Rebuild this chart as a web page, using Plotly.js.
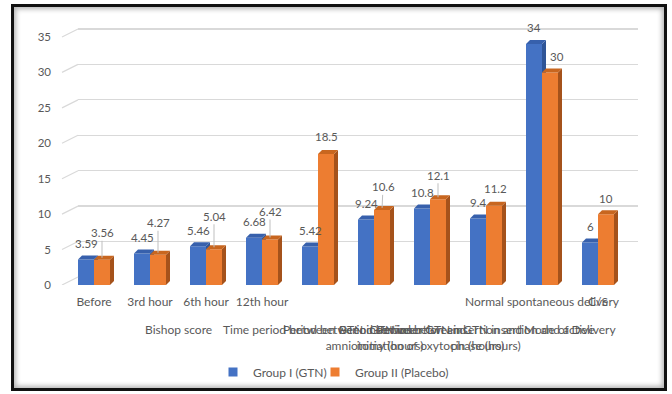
<!DOCTYPE html>
<html>
<head>
<meta charset="utf-8">
<script src="https://cdn.plot.ly/plotly-3.0.1.min.js"></script>
<style>
  html, body { margin: 0; padding: 0; background: #ffffff; overflow: hidden; }
  #wrap { position: relative; width: 672px; height: 394px; }
  #chart { position: absolute; left: 0; top: 0; width: 672px; height: 394px; }
  #frame { position: absolute; left: 11px; top: 4px; width: 656px; height: 387px; box-sizing: border-box;
           border: 3px solid #111; box-shadow: inset 0 0 5px 2px rgba(0,0,0,0.30); pointer-events: none; }
</style>
</head>
<body>
<div id="wrap"><div id="chart"></div><div id="frame"></div></div>
<script>
// ---- data ----
const categories = ['Before', '3rd hour', '6th hour', '12th hour', '', '', '', '', 'Normal spontaneous delivery', 'C/S'];
const groupLabels = [
  'Bishop score',
  'Time period between GTN insertion',
  'Period between GTN insertion and<br>amniotomy (hours)',
  'Period between GTN insertion and<br>initiation of oxytocin (hours)',
  'Period between GTN insertion and active<br>phase (hours)',
  'Mode of Delivery'
];
const groupFirst = [0, 4, 5, 6, 7, 8];
const groupLast  = [3, 4, 5, 6, 7, 9];
const seriesNames = ['Group I (GTN)', 'Group II (Placebo)'];
const gtn     = [3.59, 4.45, 5.46, 6.68, 5.42, 9.24, 10.8, 9.4, 34, 6];
const placebo = [3.56, 4.27, 5.04, 6.42, 18.5, 10.6, 12.1, 11.2, 30, 10];

// ---- label placement (pixels) ----
const gtnLift = [16, 16, 16, 16, 16, 16, 16, 16, 17, 16];
const placeboLift = [27, 32, 33, 28, 17, 23, 24, 17, 16, 16];
const placeboShift = [0, 0, 0, 0, 0, 1, 0, 1, 7, 0];

// ---- styling ----
const FONT = 'Lato, "Open Sans", sans-serif';
const TXT = '#595959';
const BLUE = '#4472C4', ORANGE = '#ED7D31';
const W = 672, H = 394;
const pxPerCat = 56, pxPerUnit = 262.2 / 37;
const barW = 16 / pxPerCat;
const dx = 4 / pxPerCat, dy = 4 / pxPerUnit;
const backDy = 8 / pxPerUnit;

const xs = categories.map((_, i) => i);

function faces(vals, off) {
  const f = {x: [], y: []}, s = {x: [], y: []}, t = {x: [], y: []};
  vals.forEach((v, i) => {
    const xl = xs[i] + off, xr = xl + barW;
    f.x.push(xl, xr, xr, xl, null); f.y.push(0, 0, v, v, null);
    s.x.push(xr, xr + dx, xr + dx, xr, null); s.y.push(0, dy, v + dy, v, null);
    t.x.push(xl, xr, xr + dx, xl + dx, null); t.y.push(v, v, v + dy, v + dy, null);
  });
  return [f, s, t];
}

function poly(p, color, name) {
  return {x: p.x, y: p.y, type: 'scatter', mode: 'lines', fill: 'toself', fillcolor: color,
          line: {width: 0, color: color}, xaxis: 'x2', yaxis: 'y2', name: name,
          showlegend: false, hoverinfo: 'skip'};
}

function legendKey(name, color, legendId) {
  // legend-only key: its single point sits outside the axis range and is clipped
  return {x: [-5], y: [-5], type: 'scatter', mode: 'markers', xaxis: 'x', yaxis: 'y', name: name,
          legend: legendId, marker: {symbol: 'square', size: 9, color: color}, cliponaxis: true,
          showlegend: true, hoverinfo: 'skip'};
}

const [bf, bs, bt] = faces(gtn, -barW);
const [of, os, ot] = faces(placebo, 0);

const traces = [
  legendKey(seriesNames[0], BLUE, 'legend'),
  legendKey(seriesNames[1], ORANGE, 'legend2'),
  poly(bf, BLUE, seriesNames[0]),
  poly(bs, '#2F5597', seriesNames[0]),
  poly(bt, '#3760AC', seriesNames[0]),
  poly(of, ORANGE, seriesNames[1]),
  poly(os, '#A5521B', seriesNames[1]),
  poly(ot, '#C8661F', seriesNames[1])
];

const annotations = [];
gtn.forEach((v, i) => {
  annotations.push({x: xs[i] - barW / 2, y: v, xref: 'x2', yref: 'y2', text: String(v),
    showarrow: false, yshift: gtnLift[i], yanchor: 'middle', font: {family: FONT, size: 11.5, color: TXT}});
});
placebo.forEach((v, i) => {
  const lead = placeboLift[i] >= 20;
  const a = {x: xs[i] + barW / 2, y: v, xref: 'x2', yref: 'y2', text: String(v),
    font: {family: FONT, size: 11.5, color: TXT}};
  if (lead) {
    Object.assign(a, {showarrow: true, arrowhead: 0, arrowwidth: 1, arrowcolor: '#bfbfbf',
      ax: placeboShift[i], ay: -placeboLift[i], standoff: 2});
  } else {
    Object.assign(a, {showarrow: false, yshift: placeboLift[i], xshift: placeboShift[i], yanchor: 'middle'});
  }
  annotations.push(a);
});
groupLabels.forEach((g, k) => {
  annotations.push({x: (xs[groupFirst[k]] + xs[groupLast[k]]) / 2, y: (H - 320) / H, xref: 'x2', yref: 'paper',
    text: g, showarrow: false, yanchor: 'top', align: 'center',
    font: {family: FONT, size: 12, color: TXT}});
});

const shapes = [];
for (let v = 0; v <= 35; v += 5) {
  shapes.push({type: 'line', xref: 'paper', yref: 'y2', x0: 62 / W, x1: 78 / W, y0: v, y1: v + backDy,
    line: {color: '#d9d9d9', width: 1.2}});
}

const legendStyle = {orientation: 'h', xanchor: 'left', y: (H - 372) / H, yanchor: 'middle', itemwidth: 30,
                     font: {family: FONT, size: 12, color: TXT}, bgcolor: 'rgba(0,0,0,0)'};

const layout = {
  width: W, height: H,
  margin: {l: 0, r: 0, t: 0, b: 0},
  paper_bgcolor: '#ffffff', plot_bgcolor: 'rgba(0,0,0,0)',
  font: {family: FONT, color: TXT},
  xaxis: {domain: [78 / W, 638 / W], range: [-0.5, 9.5], anchor: 'y', showgrid: false, zeroline: false,
          showticklabels: false, fixedrange: true},
  yaxis: {domain: [(H - 277) / H, (H - 14.8) / H], range: [0, 37], anchor: 'x', dtick: 5, showgrid: true,
          gridcolor: '#d9d9d9', gridwidth: 1.3, zeroline: false, showticklabels: false, fixedrange: true},
  xaxis2: {domain: [66 / W, 626 / W], range: [-0.5, 9.5], anchor: 'y2', showgrid: false, zeroline: false,
           tickmode: 'array', tickvals: xs, ticktext: categories, tickangle: 0, ticks: '',
           ticklabelstandoff: 8, tickfont: {family: FONT, size: 12, color: TXT}, fixedrange: true},
  yaxis2: {domain: [(H - 285) / H, (H - 22.8) / H], range: [0, 37], anchor: 'x2', dtick: 5, showgrid: false,
           zeroline: false, ticks: '', ticklabelstandoff: 14, tickfont: {family: FONT, size: 11.5, color: TXT},
           fixedrange: true},
  showlegend: true,
  legend: Object.assign({x: 213 / W}, legendStyle),
  legend2: Object.assign({x: 315 / W}, legendStyle),
  annotations: annotations,
  shapes: shapes
};

Plotly.newPlot('chart', traces, layout, {staticPlot: true, displayModeBar: false});
</script>
</body>
</html>
